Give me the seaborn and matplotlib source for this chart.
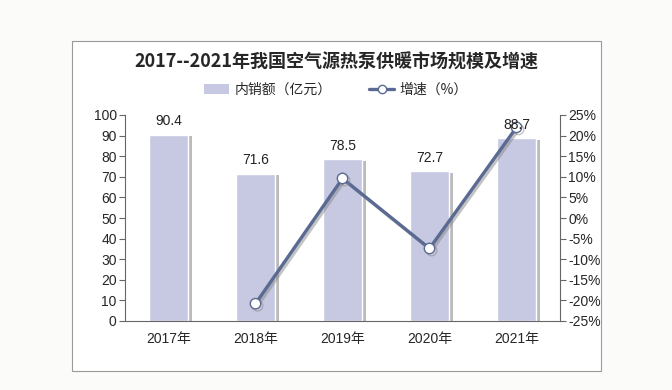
import matplotlib
matplotlib.use("Agg")
import matplotlib.pyplot as plt
import matplotlib.patheffects as pe
from matplotlib.patches import Rectangle, Patch
from matplotlib.lines import Line2D
import numpy as np
import seaborn as sns

# data
years = ["2017年", "2018年", "2019年", "2020年", "2021年"]
sales = [90.4, 71.6, 78.5, 72.7, 88.7]          # 内销额（亿元）
growth = [-20.8, 9.6, -7.4, 22.0]               # 增速（%），2018-2021
growth_years = years[1:]

sns.set_style("white")
plt.rcParams['font.family'] = ['Liberation Sans', 'Noto Sans CJK SC', 'DejaVu Sans']

bar_color = "#c7c9e2"
line_color = "#5a6a92"

fig = plt.figure(figsize=(6.72, 3.9), dpi=100)
fig.patch.set_facecolor("#fbfcf9")

# chart frame
W, H = 672, 390
fig.patches.append(Rectangle((72 / W, 1 - 371 / H), (601 - 72) / W, (371 - 41) / H,
                             transform=fig.transFigure, facecolor="white",
                             edgecolor="#9a9a9a", linewidth=0.8, zorder=-10))

ax = fig.add_axes([125 / W, 1 - 321 / H, (560 - 125) / W, (321 - 115) / H])
ax.set_facecolor("none")

sns.barplot(x=years, y=sales, color=bar_color, width=0.44, saturation=1, ax=ax, zorder=2)
for p in ax.patches:
    p.set_path_effects([pe.SimplePatchShadow(offset=(3, -1), shadow_rgbFace="#8f8f8f", alpha=0.6),
                        pe.Normal()])

ax.set_ylim(0, 100)
ax.set_yticks(range(0, 101, 10))
ax.set_xlim(-0.5, 4.5)
ax.set_xlabel("")
ax.set_ylabel("")
for s in ["top", "right"]:
    ax.spines[s].set_visible(False)
for s in ["left", "bottom"]:
    ax.spines[s].set_color("#666666")
    ax.spines[s].set_linewidth(0.8)
ax.tick_params(axis="y", direction="out", length=4, color="#666666", labelsize=10, pad=2)
ax.tick_params(axis="x", length=0, labelsize=10, pad=8)
ax.set_xticks(np.arange(-0.5, 4.6, 1), minor=True)
ax.tick_params(axis="x", which="minor", direction="out", length=4, color="#666666")

ax2 = ax.twinx()
ax2.plot(np.arange(1, 5), growth, color=line_color, linewidth=2.4, marker="o",
         markersize=7.5, markerfacecolor="white", markeredgecolor=line_color,
         markeredgewidth=1.0, zorder=3,
         path_effects=[pe.SimpleLineShadow(offset=(1.5, -1.5), shadow_color="#888888", alpha=0.5),
                       pe.Normal()])
ax2.set_ylim(-25, 25)
ax2.set_yticks(range(-25, 26, 5))
ax2.set_yticklabels([f"{t}%" for t in range(-25, 26, 5)])
for s in ["top", "left", "bottom"]:
    ax2.spines[s].set_visible(False)
ax2.spines["right"].set_color("#666666")
ax2.spines["right"].set_linewidth(0.8)
ax2.tick_params(axis="y", direction="out", length=4, color="#666666", labelsize=10, pad=2)

# bar value labels drawn on top of the line
for i, v in enumerate(sales):
    ax2.text(i, v + 3.2, f"{v}", ha="center", va="bottom", fontsize=10, color="#222222",
             transform=ax.transData, zorder=5)

fig.text(0.5, 1 - 62 / H, "2017--2021年我国空气源热泵供暖市场规模及增速",
         ha="center", va="center", fontsize=13, fontweight="bold",
         family=["Noto Sans CJK SC", "DejaVu Sans"])

handles = [Patch(facecolor=bar_color, edgecolor="none"),
           Line2D([0], [0], color=line_color, linewidth=2.4, marker="o", markersize=6,
                  markerfacecolor="white", markeredgecolor=line_color)]
fig.legend(handles, ["内销额（亿元）", "增速（%）"], loc="center", ncol=2,
           bbox_to_anchor=(0.5, 1 - 90 / H), frameon=False, fontsize=10,
           handlelength=1.8, columnspacing=2.7, handletextpad=0.4,
           prop={"family": ["Noto Sans CJK SC", "DejaVu Sans"], "size": 10})

fig.savefig("out.png", dpi=100, facecolor=fig.get_facecolor())
